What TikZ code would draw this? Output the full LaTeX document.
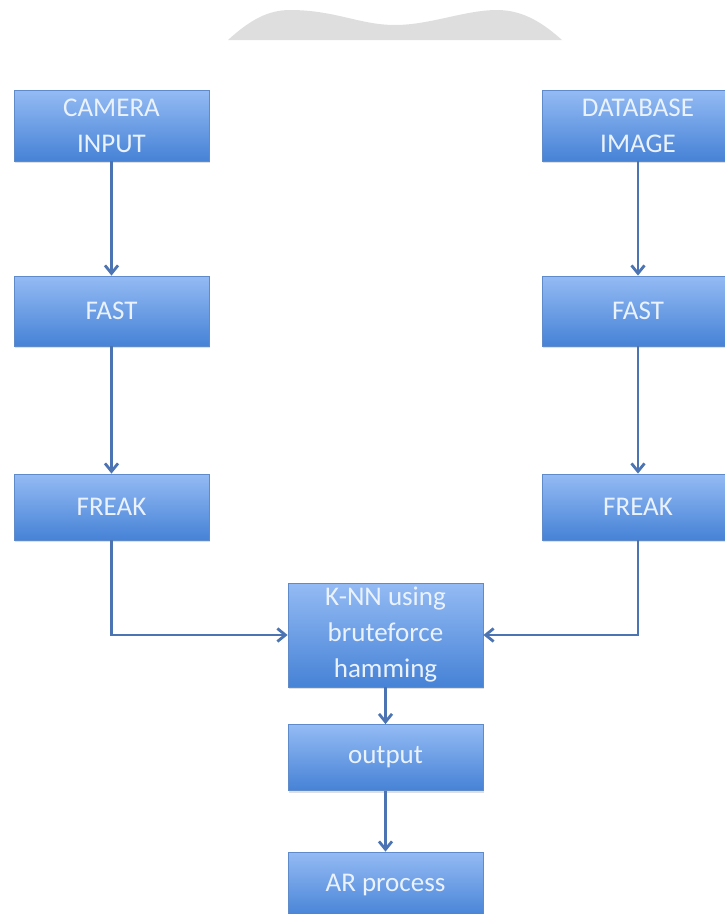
\documentclass[tikz,border=0pt]{standalone}
\usepackage{fontspec}
\setmainfont{Carlito}
\usetikzlibrary{arrows.meta, shadows}

\definecolor{boxtop}{HTML}{94BBF4}
\definecolor{boxbot}{HTML}{4682D6}
\definecolor{boxedge}{HTML}{5F8BCB}
\definecolor{flow}{HTML}{4C74B2}
\definecolor{boxtext}{HTML}{EAF2FD}
\definecolor{blob}{HTML}{DEDEDE}

\begin{document}
\begin{tikzpicture}[x=1pt, y=-1pt,
  stage/.style={draw=boxedge, line width=0.8pt, top color=boxtop, bottom color=boxbot,
    text=boxtext, align=center, inner sep=0pt,
    minimum width=195pt, minimum height=66pt,
    font=\fontsize{27}{36}\selectfont,
    drop shadow={opacity=0.25, shadow xshift=1pt, shadow yshift=-2pt}},
  flowline/.style={draw=flow, line width=2.8pt, -{Straight Barb[length=8pt, width=13pt]}}]
  \useasboundingbox (0, 0) rectangle (725, 914);
  \clip (0, 0) rectangle (725, 914);

  \fill[blob] (228, 40) .. controls (250, 20) and (268, 10) .. (290, 10)
    .. controls (335, 10) and (360, 25) .. (395, 25)
    .. controls (430, 25) and (465, 10) .. (497, 10)
    .. controls (525, 10) and (545, 25) .. (562, 40) -- cycle;

  \node[stage, minimum height=71pt] (cam) at (111.5, 125.5) {CAMERA\\INPUT};
  \node[stage, minimum height=70pt] (fastL) at (111.5, 311) {FAST};
  \node[stage] (freakL) at (111.5, 507) {FREAK};

  \node[stage, minimum height=71pt, minimum width=192pt] (dbimg) at (638, 125.5) {DATABASE\\IMAGE};
  \node[stage, minimum height=70pt, minimum width=192pt] (fastR) at (638, 311) {FAST};
  \node[stage, minimum width=192pt] (freakR) at (638, 507) {FREAK};

  \node[stage, minimum height=104pt] (knn) at (385.5, 635) {K-NN using\\bruteforce\\hamming};
  \node[stage] (out) at (385.5, 757.5) {output};
  \node[stage] (ar) at (385.5, 885) {AR process};

  \draw[flowline] (cam) -- (fastL);
  \draw[flowline] (fastL) -- (freakL);
  \draw[flowline] (dbimg) -- (fastR);
  \draw[flowline] (fastR) -- (freakR);
  \draw[flowline] (freakL) |- (knn);
  \draw[flowline] (freakR) |- (knn);
  \draw[flowline] (knn) -- (out);
  \draw[flowline] (out) -- (ar);
\end{tikzpicture}
\end{document}
